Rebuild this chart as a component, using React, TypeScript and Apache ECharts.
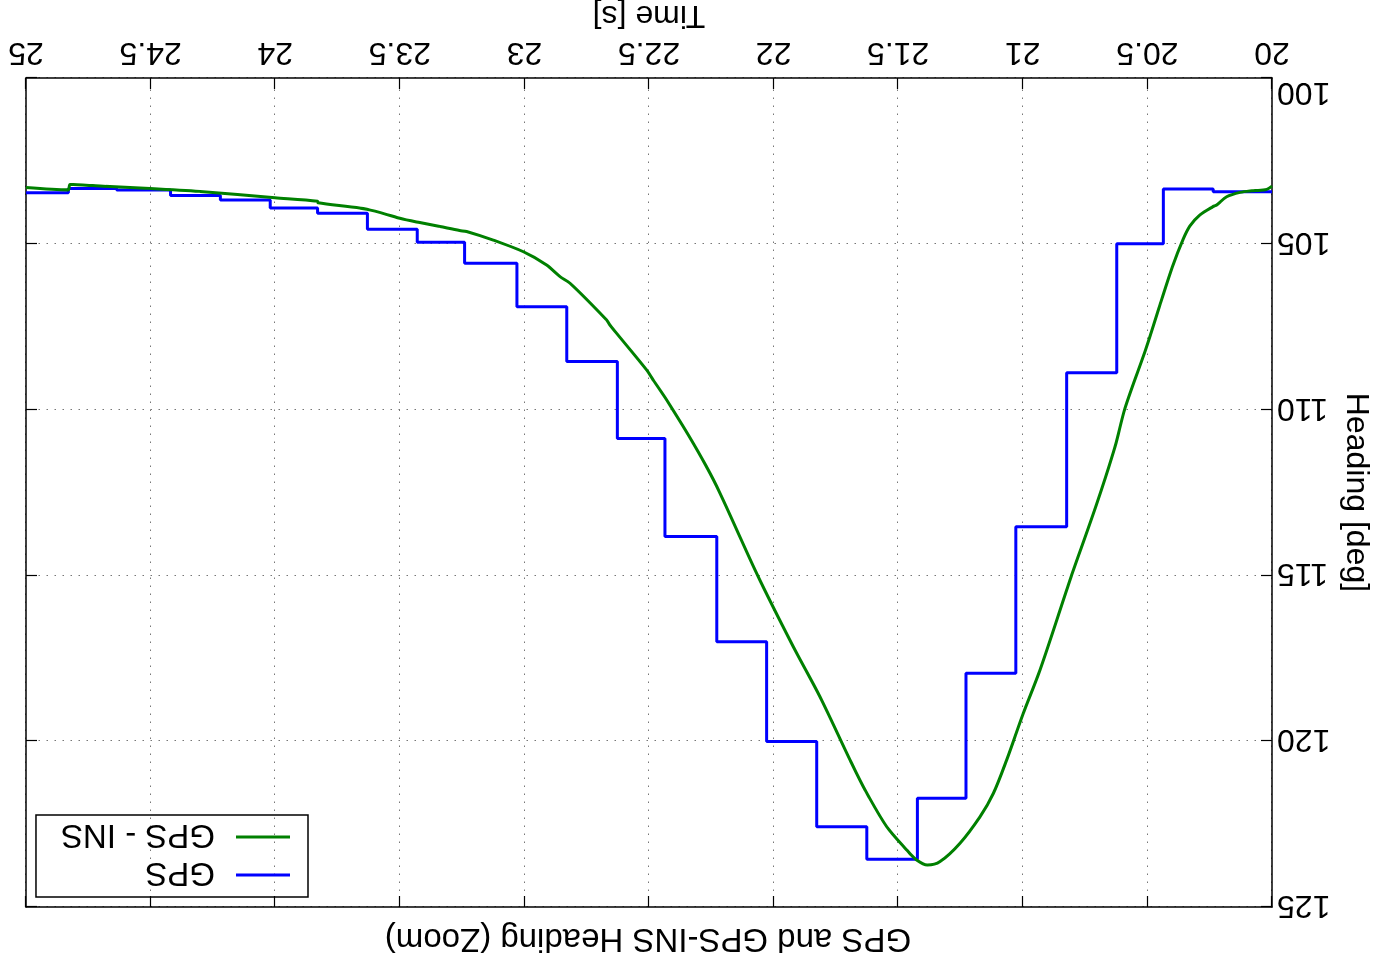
import React, { useEffect, useRef } from "react";
import * as echarts from "echarts";

// GPS heading: hold value starting at each update time (step plot)
const gpsTime = [
  20.0, 20.236, 20.436, 20.623, 20.824, 21.028, 21.228, 21.423, 21.626, 21.827,
  22.028, 22.228, 22.436, 22.627, 22.83, 23.03, 23.24, 23.43, 23.63, 23.83,
  24.02, 24.22, 24.42, 24.636, 24.83, 25.0,
];
const gpsHeading = [
  103.43, 103.35, 105.0, 108.89, 113.53, 117.95, 121.72, 123.56, 122.58, 120.01,
  117.0, 113.83, 110.87, 108.55, 106.9, 105.59, 104.95, 104.56, 104.08, 103.92,
  103.68, 103.54, 103.38, 103.33, 103.46, 103.46,
];

// Fused GPS-INS heading
const insTime = [
  20.0, 20.021, 20.075, 20.128, 20.182, 20.222, 20.237, 20.289, 20.33, 20.356,
  20.4, 20.45, 20.503, 20.59, 20.63, 20.703, 20.804, 20.824, 20.931, 20.998,
  21.065, 21.118, 21.172, 21.252, 21.332, 21.383, 21.426, 21.466, 21.546, 21.633,
  21.693, 21.814, 21.921, 22.068, 22.228, 22.322, 22.429, 22.483, 22.509, 22.657,
  22.67, 22.817, 22.857, 22.911, 23.004, 23.125, 23.232, 23.26, 23.339, 23.42,
  23.5, 23.632, 23.828, 23.83, 24.001, 24.302, 24.502, 24.703, 24.823, 24.831,
  25.0,
];
const insHeading = [
  103.26, 103.36, 103.4, 103.45, 103.58, 103.83, 103.88, 104.13, 104.47, 104.85,
  105.7, 106.85, 108.1, 109.96, 111.12, 112.83, 114.99, 115.44, 117.85, 119.16,
  120.57, 121.57, 122.28, 123.08, 123.63, 123.73, 123.58, 123.28, 122.58, 121.47,
  120.57, 118.66, 117.15, 114.94, 112.32, 111.02, 109.71, 109.11, 108.81, 107.45,
  107.3, 106.19, 105.99, 105.64, 105.24, 104.89, 104.63, 104.6, 104.48, 104.36,
  104.23, 103.96, 103.76, 103.72, 103.61, 103.42, 103.33, 103.26, 103.21, 103.38,
  103.3,
];

const timeMin = 20;
const timeMax = 25;
const timeStep = 0.5;
const headingMin = 100;
const headingMax = 125;
const headingStep = 5;

const FONT = "Liberation Sans";

export default function App() {
  const ref = useRef<HTMLDivElement>(null);

  useEffect(() => {
    if (!ref.current) return;
    const chart = echarts.init(ref.current, undefined, { renderer: "svg" });

    const gridLine = {
      show: true,
      lineStyle: { color: "#777", width: 1, type: [1.5, 6.5] as any },
    };
    const tick = {
      show: true,
      inside: true,
      length: 11,
      lineStyle: { color: "#000", width: 1.2 },
    };
    const axisLine = {
      show: true,
      onZero: false,
      lineStyle: { color: "#000", width: 1.5 },
    };
    const labelStyle = { fontFamily: FONT, fontSize: 32, color: "#000" };

    chart.setOption({
      animation: false,
      backgroundColor: "#fff",
      title: {
        text: "GPS and GPS-INS Heading (Zoom)",
        left: 724,
        top: 5,
        textAlign: "center",
        textStyle: { fontFamily: FONT, fontSize: 33, fontWeight: "normal", color: "#000" },
      },
      legend: {
        orient: "vertical",
        left: 1069,
        top: 70,
        padding: [3, 25, 3, 18],
        itemGap: 0,
        itemWidth: 54,
        itemHeight: 3,
        icon: "rect",
        borderColor: "#000",
        borderWidth: 1.5,
        borderRadius: 0,
        data: ["GPS", "GPS - INS"],
        textStyle: {
          fontFamily: FONT,
          fontSize: 33,
          color: "#000",
          lineHeight: 38,
          padding: [0, 0, 0, 16],
        },
      },
      grid: {
        left: 105,
        right: 26,
        top: 60,
        bottom: 78,
        containLabel: false,
        outerBoundsMode: "none",
      },
      xAxis: [
        {
          type: "value",
          position: "bottom",
          min: timeMin,
          max: timeMax,
          interval: timeStep,
          name: "Time [s]",
          nameLocation: "middle",
          nameGap: 39,
          nameTextStyle: { fontFamily: FONT, fontSize: 32, color: "#000" },
          axisLine,
          axisTick: tick,
          axisLabel: { ...labelStyle, margin: 8 },
          splitLine: gridLine,
        },
        {
          type: "value",
          position: "top",
          min: timeMin,
          max: timeMax,
          interval: timeStep,
          axisLine,
          axisTick: tick,
          axisLabel: { show: false },
          splitLine: { show: false },
        },
      ],
      yAxis: [
        {
          type: "value",
          position: "left",
          min: headingMin,
          max: headingMax,
          interval: headingStep,
          name: "Heading [deg]",
          nameLocation: "middle",
          nameRotate: 90,
          nameGap: 70,
          nameTextStyle: { fontFamily: FONT, fontSize: 32, lineHeight: 32, color: "#000" },
          axisLine,
          axisTick: tick,
          axisLabel: { ...labelStyle, margin: 5, verticalAlignMinLabel: "bottom" },
          splitLine: gridLine,
        },
        {
          type: "value",
          position: "right",
          min: headingMin,
          max: headingMax,
          interval: headingStep,
          axisLine,
          axisTick: tick,
          axisLabel: { show: false },
          splitLine: { show: false },
        },
      ],
      series: [
        {
          name: "GPS",
          type: "line",
          step: "end",
          showSymbol: false,
          data: gpsTime.map((t, i) => [t, gpsHeading[i]]),
          itemStyle: { color: "#0000ff" },
          lineStyle: { color: "#0000ff", width: 3 },
        },
        {
          name: "GPS - INS",
          type: "line",
          smooth: 0.3,
          showSymbol: false,
          data: insTime.map((t, i) => [t, insHeading[i]]),
          itemStyle: { color: "#008000" },
          lineStyle: { color: "#008000", width: 3 },
        },
      ],
    });

    return () => chart.dispose();
  }, []);

  return (
    <div
      style={{
        position: "fixed",
        left: 0,
        top: 0,
        width: 1377,
        height: 967,
        background: "#fff",
        transform: "rotate(180deg)",
      }}
    >
      <div ref={ref} style={{ width: 1377, height: 967 }} />
    </div>
  );
}
